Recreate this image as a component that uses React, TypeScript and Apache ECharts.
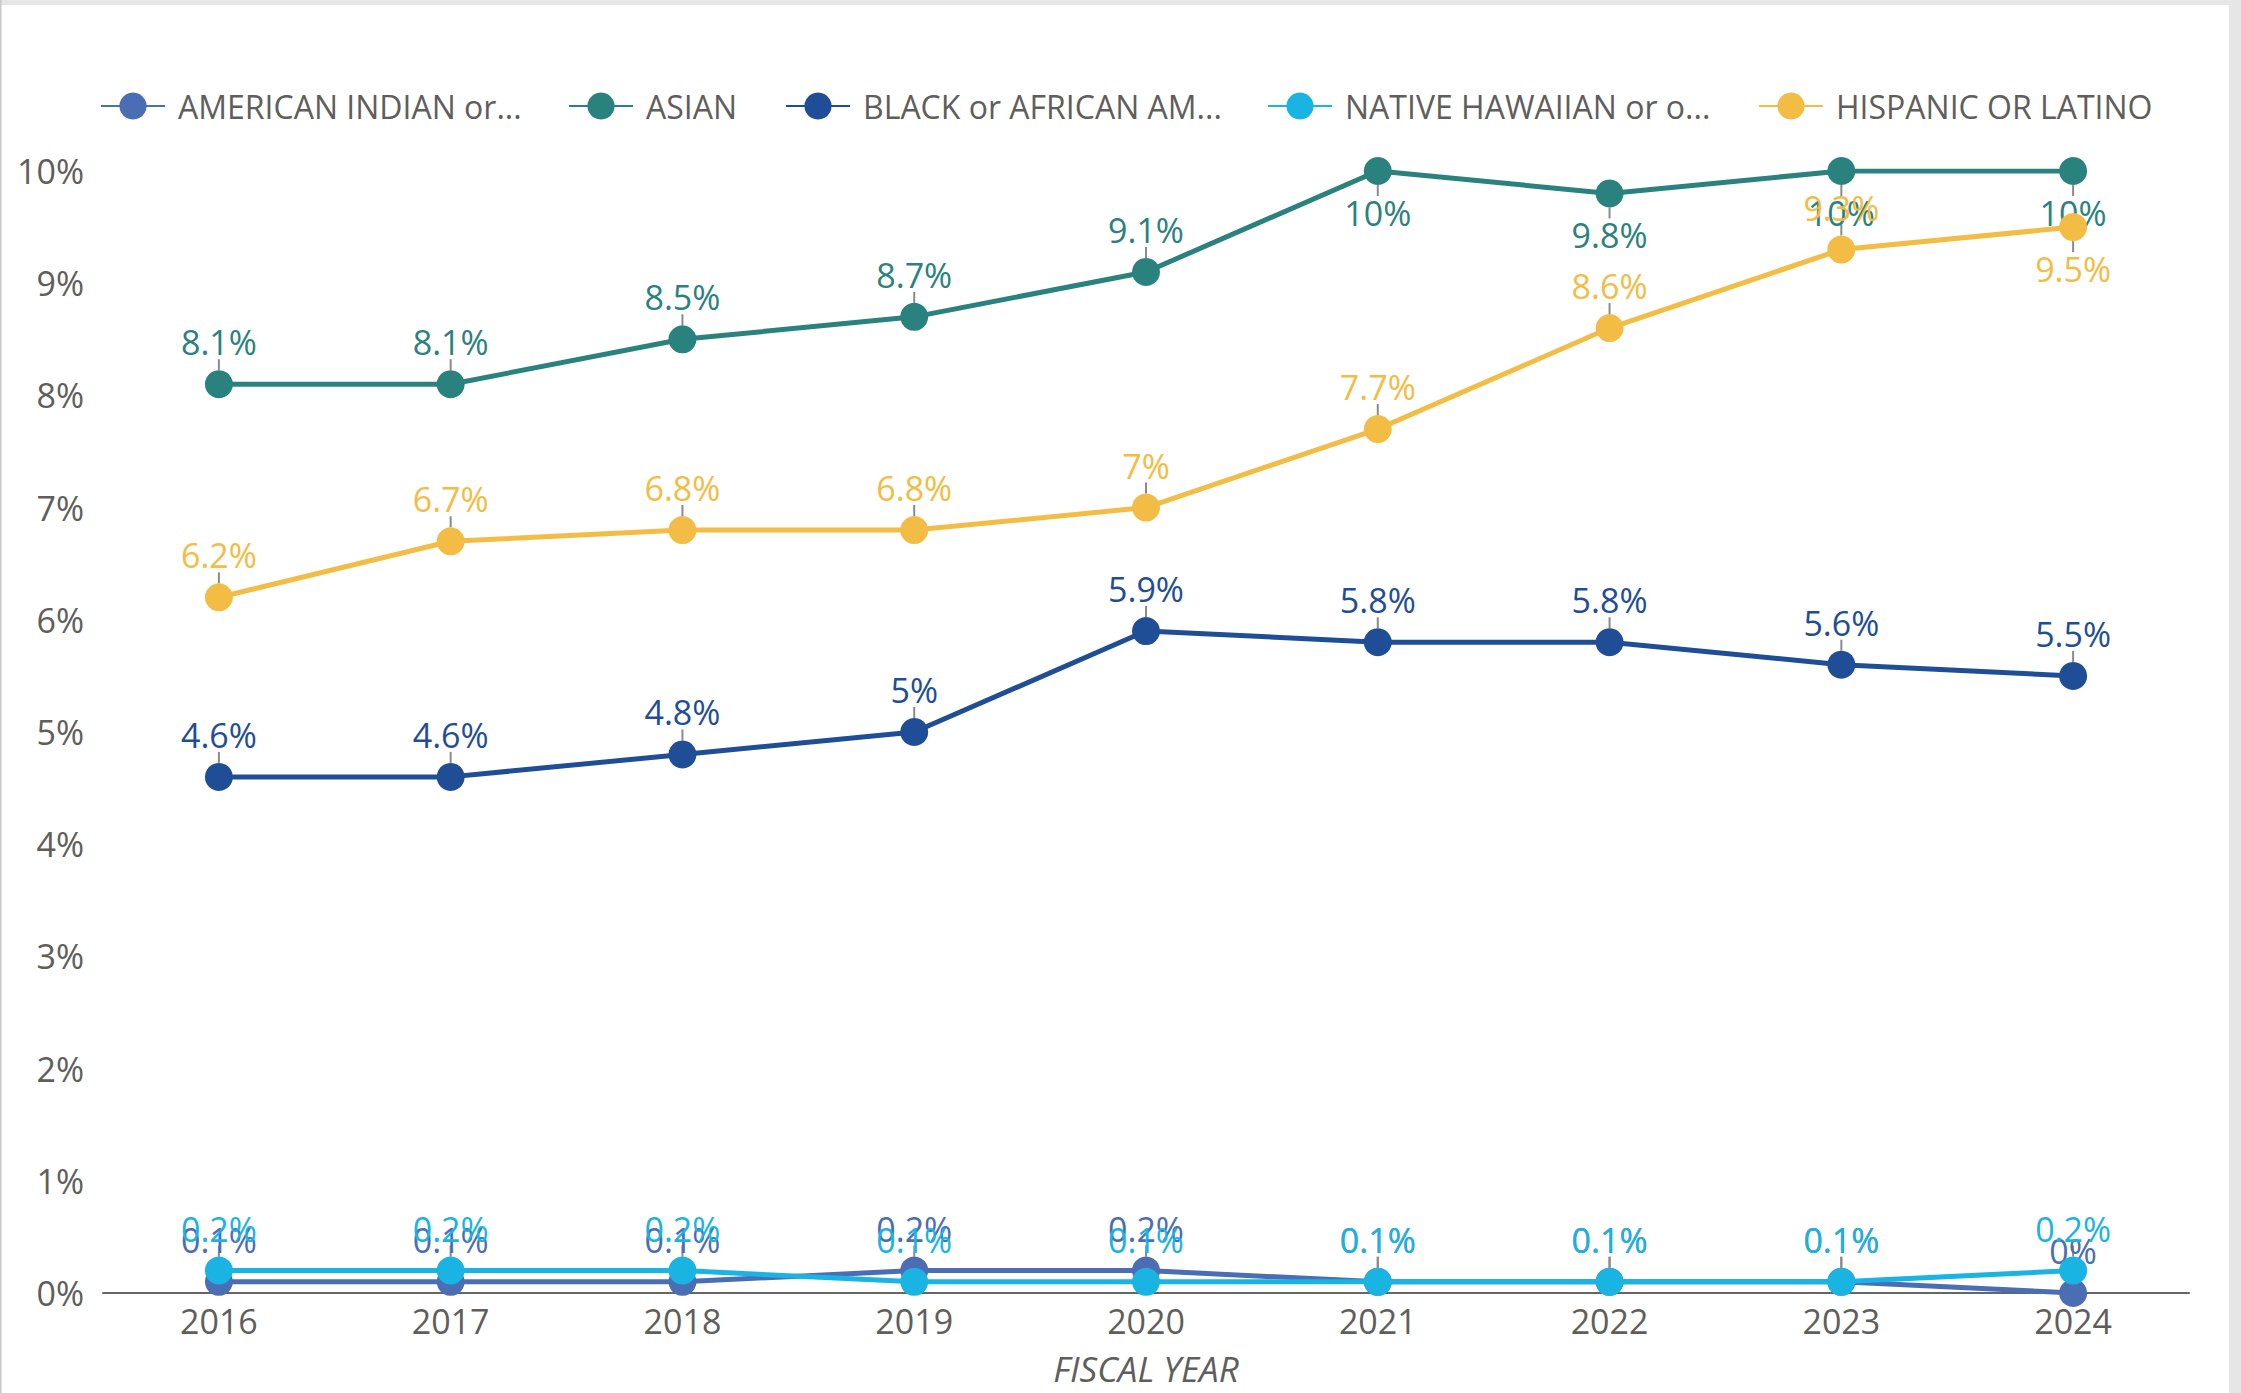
import React, { useEffect, useRef } from "react";
import * as echarts from "echarts";

const years = ["2016", "2017", "2018", "2019", "2020", "2021", "2022", "2023", "2024"];

const seriesNames = [
  "AMERICAN INDIAN or ALASKA NATIVE",
  "ASIAN",
  "BLACK or AFRICAN AMERICAN",
  "NATIVE HAWAIIAN or OTHER PACIFIC ISLANDER",
  "HISPANIC OR LATINO",
];
const legendLabels = [
  "AMERICAN INDIAN or...",
  "ASIAN",
  "BLACK or AFRICAN AM...",
  "NATIVE HAWAIIAN or o...",
  "HISPANIC OR LATINO",
];

const americanIndian = [0.1, 0.1, 0.1, 0.2, 0.2, 0.1, 0.1, 0.1, 0];
const asian = [8.1, 8.1, 8.5, 8.7, 9.1, 10, 9.8, 10, 10];
const black = [4.6, 4.6, 4.8, 5, 5.9, 5.8, 5.8, 5.6, 5.5];
const nativeHawaiian = [0.2, 0.2, 0.2, 0.1, 0.1, 0.1, 0.1, 0.1, 0.2];
const hispanic = [6.2, 6.7, 6.8, 6.8, 7, 7.7, 8.6, 9.3, 9.5];

const seriesValues = [americanIndian, asian, black, nativeHawaiian, hispanic];
const seriesColors = ["#4A6DB4", "#2A827E", "#1F4E96", "#1AB4E3", "#F2BC45"];
// indices of points whose data label sits below the marker
const labelsBelow = [[], [5, 6, 7, 8], [], [], [8]];
const legendLeft = [95, 563, 780, 1262, 1753];

const yMin = 0;
const yMax = 10;
const yInterval = 1;

const FONT = "'Open Sans', 'Noto Sans', sans-serif";
const GRAY = "#605E5C";
const MARKER = 28;

export default function App() {
  const ref = useRef<HTMLDivElement>(null);

  useEffect(() => {
    document.body.style.margin = "0";
    if (!ref.current) return;
    const chart = echarts.init(ref.current, null, { renderer: "svg" });

    const leaderSeries = seriesNames.map((name, si) => ({
      name: name + " leader",
      type: "custom",
      silent: true,
      z: 1,
      data: seriesValues[si].map((v, i) => [i, v, labelsBelow[si].includes(i) ? 1 : 0]),
      renderItem: (params: any, api: any) => {
        const pt = api.coord([api.value(0), api.value(1)]);
        const dir = api.value(2) ? 1 : -1;
        return {
          type: "line",
          shape: {
            x1: pt[0],
            y1: pt[1] + dir * (MARKER / 2),
            x2: pt[0],
            y2: pt[1] + dir * (MARKER / 2 + 11),
          },
          style: { stroke: "#8A8A8A", lineWidth: 2 },
        };
      },
    }));

    const lineSeries = seriesNames.map((name, si) => ({
      name,
      type: "line",
      symbol: "circle",
      symbolSize: MARKER,
      color: seriesColors[si],
      lineStyle: { width: 5, color: seriesColors[si] },
      itemStyle: { color: seriesColors[si] },
      label: {
        show: true,
        position: "top",
        distance: 8,
        color: seriesColors[si],
        fontFamily: FONT,
        fontSize: 34,
        lineHeight: 40,
        formatter: (p: any) => `${p.value}%`,
      },
      data: seriesValues[si].map((v, i) =>
        labelsBelow[si].includes(i) ? { value: v, label: { position: "bottom" } } : v
      ),
      z: 2 + si,
    }));

    const legends = seriesNames.map((name, si) => ({
      data: [name],
      left: legendLeft[si],
      top: 84,
      itemWidth: 64,
      itemHeight: 34,
      formatter: () => legendLabels[si],
      textStyle: {
        color: GRAY,
        fontFamily: FONT,
        fontSize: 32,
        lineHeight: 34,
        padding: [0, 0, 0, 8],
      },
    }));

    chart.setOption({
      animation: false,
      backgroundColor: "#ffffff",
      legend: legends,
      grid: { left: 103, right: 52, top: 171, bottom: 100, containLabel: false },
      xAxis: {
        type: "category",
        data: years,
        boundaryGap: true,
        name: "FISCAL YEAR",
        nameLocation: "middle",
        nameGap: 58,
        nameTextStyle: { color: GRAY, fontFamily: FONT, fontSize: 35, fontStyle: "italic" },
        axisLine: { show: true, lineStyle: { color: "#666666", width: 2 } },
        axisTick: { show: false },
        axisLabel: { color: GRAY, fontFamily: FONT, fontSize: 34, margin: 11 },
        splitLine: { show: false },
      },
      yAxis: {
        type: "value",
        min: yMin,
        max: yMax,
        interval: yInterval,
        axisLine: { show: false },
        axisTick: { show: false },
        splitLine: { show: false },
        axisLabel: {
          color: GRAY,
          fontFamily: FONT,
          fontSize: 34,
          margin: 19,
          formatter: "{value}%",
        },
      },
      graphic: [
        { type: "rect", left: 0, top: 0, shape: { width: 2241, height: 5 }, style: { fill: "#E6E6E6" }, silent: true },
        { type: "rect", left: 2229, top: 0, shape: { width: 12, height: 1393 }, style: { fill: "#E6E6E6" }, silent: true },
        { type: "rect", left: 0, top: 0, shape: { width: 1.5, height: 1393 }, style: { fill: "#C8C8C8" }, silent: true },
      ],
      series: [...leaderSeries, ...lineSeries],
    });

    return () => chart.dispose();
  }, []);

  return (
    <div
      ref={ref}
      style={{ position: "absolute", left: 0, top: 0, width: 2241, height: 1393, background: "#fff" }}
    />
  );
}
